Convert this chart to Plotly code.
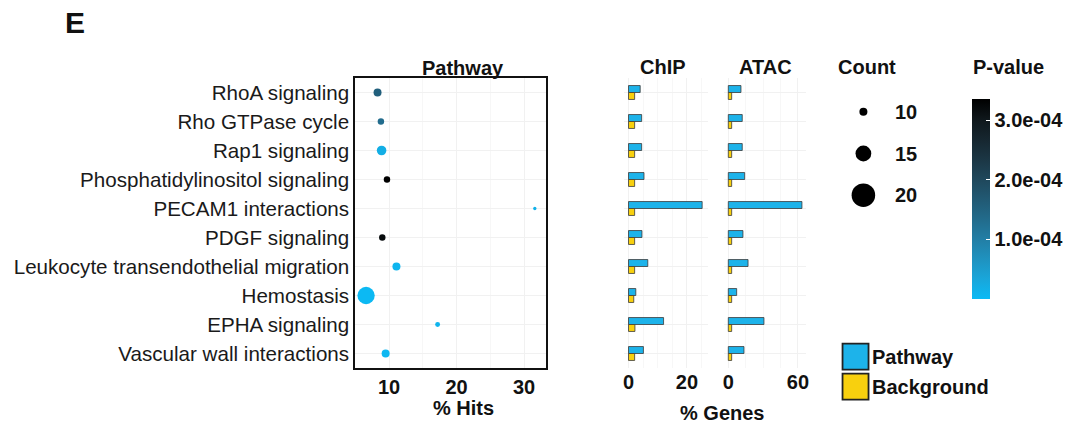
import plotly.graph_objects as go

# ---------------- data ----------------
pathways = ["RhoA signaling", "Rho GTPase cycle", "Rap1 signaling",
            "Phosphatidylinositol signaling", "PECAM1 interactions",
            "PDGF signaling", "Leukocyte transendothelial migration",
            "Hemostasis", "EPHA signaling", "Vascular wall interactions"]
hits_pct = [8.3, 8.8, 8.9, 9.7, 31.6, 9.0, 11.1, 6.6, 17.2, 9.5]
counts = [10, 9, 11, 9, 7, 9, 10, 16, 8, 10]
pvalues = [1.56e-4, 1.32e-4, 2.0e-5, 3.36e-4, 1.5e-5, 3.2e-4, 8e-6, 2e-6, 1e-5, 5e-6]
chip_pathway = [4.0, 4.5, 4.5, 5.3, 25.2, 4.6, 6.6, 2.5, 12.0, 5.1]
chip_background = [2.1, 2.1, 2.1, 2.1, 2.1, 2.1, 2.1, 1.8, 2.2, 2.1]
atac_pathway = [10.9, 12.0, 12.0, 14.1, 63.4, 12.6, 17.0, 7.2, 30.7, 13.5]
atac_background = [2.9, 2.9, 2.9, 2.9, 2.9, 2.9, 2.9, 2.9, 2.9, 2.9]
count_breaks = [10, 15, 20]
pval_ticks = [1e-4, 2e-4, 3e-4]
pval_ticktext = ["1.0e-04", "2.0e-04", "3.0e-04"]
hits_ticks = [10, 20, 30]
chip_ticks = [0, 20]
atac_ticks = [0, 60]
fill_legend = ["Pathway", "Background"]

# ---------------- styling helpers ----------------
W, H = 1071, 424
FONT = "Liberation Sans, Arial, sans-serif"
C_PATH = "#1DB3EA"
C_BG = "#F8D00E"
GRID = "#F1F1F1"


def px_x(p):
    return p / W


def px_y(p):
    return 1 - p / H


def size_of(c):
    return 1.55 * c - 7.5


def _lin(c):
    c = c / 255
    return c / 12.92 if c <= 0.04045 else ((c + 0.055) / 1.055) ** 2.4


def _gam(c):
    c = 12.92 * c if c <= 0.0031308 else 1.055 * c ** (1 / 2.4) - 0.055
    return max(0, min(255, round(c * 255)))


WHITE = (0.95047, 1.0, 1.08883)


def to_lab(h):
    r, g, b = [_lin(int(h[i:i + 2], 16)) for i in (1, 3, 5)]
    X = 0.4124 * r + 0.3576 * g + 0.1805 * b
    Y = 0.2126 * r + 0.7152 * g + 0.0722 * b
    Z = 0.0193 * r + 0.1192 * g + 0.9505 * b
    f = lambda t: t ** (1 / 3) if t > 0.008856 else 7.787 * t + 16 / 116
    fx, fy, fz = f(X / WHITE[0]), f(Y / WHITE[1]), f(Z / WHITE[2])
    return 116 * fy - 16, 500 * (fx - fy), 200 * (fy - fz)


def from_lab(L, a, b):
    fy = (L + 16) / 116
    fx = fy + a / 500
    fz = fy - b / 200
    inv = lambda t: t ** 3 if t ** 3 > 0.008856 else (t - 16 / 116) / 7.787
    X, Y, Z = inv(fx) * WHITE[0], inv(fy) * WHITE[1], inv(fz) * WHITE[2]
    r = 3.2406 * X - 1.5372 * Y - 0.4986 * Z
    g = -0.9689 * X + 1.8758 * Y + 0.0415 * Z
    bb = 0.0557 * X - 0.2040 * Y + 1.0570 * Z
    return "rgb(%d,%d,%d)" % (_gam(r), _gam(g), _gam(bb))


lo, hi = to_lab("#0BBAF5"), to_lab("#000000")
colorscale = []
for i in range(11):
    t = i / 10
    colorscale.append([t, from_lab(*[lo[k] + (hi[k] - lo[k]) * t for k in range(3)])])

fig = go.Figure()

# ---------------- dot plot ----------------
fig.add_trace(go.Scatter(
    x=hits_pct, y=pathways, mode="markers", xaxis="x", yaxis="y",
    marker=dict(size=[size_of(c) for c in counts], color=pvalues,
                colorscale=colorscale, cmin=0, cmax=max(pvalues),
                line=dict(width=0), opacity=1,
                colorbar=dict(x=px_x(972), xanchor="left", y=px_y(199), yanchor="middle",
                              lenmode="pixels", len=220, ypad=10, thickness=18, outlinewidth=0,
                              xpad=0,
                              tickvals=pval_ticks, ticktext=pval_ticktext,
                              ticks="inside", ticklen=4, tickcolor="white", tickwidth=1,
                              tickfont=dict(family=FONT, size=20, color="#111", weight="bold"))),
    showlegend=False, hoverinfo="skip"))

# ---------------- bars ----------------
for xa, ya, pv, bv in (("x2", "y2", chip_pathway, chip_background),
                       ("x3", "y3", atac_pathway, atac_background)):
    fig.add_trace(go.Bar(x=pv, y=pathways, orientation="h", xaxis=xa, yaxis=ya,
                         marker=dict(color=C_PATH, line=dict(color="#3a3a3a", width=0.8)),
                         offsetgroup="p", showlegend=False))
    fig.add_trace(go.Bar(x=bv, y=pathways, orientation="h", xaxis=xa, yaxis=ya,
                         marker=dict(color=C_BG, line=dict(color="#3a3a3a", width=0.8)),
                         offsetgroup="b", showlegend=False))

# ---------------- size legend ----------------
fig.add_trace(go.Scatter(x=[0.26] * len(count_breaks), y=count_breaks, mode="markers",
                         xaxis="x4", yaxis="y4",
                         marker=dict(size=[size_of(c) for c in count_breaks], color="#000000",
                                     opacity=1, line=dict(width=0)),
                         showlegend=False, hoverinfo="skip"))

# ---------------- fill legend ----------------
fig.add_trace(go.Scatter(x=[0.087] * 2, y=fill_legend, mode="markers", xaxis="x5", yaxis="y5",
                         marker=dict(symbol="square", size=26, color=[C_PATH, C_BG],
                                     line=dict(color="#222", width=1.8)),
                         showlegend=False, hoverinfo="skip"))

tickfont_b = dict(family=FONT, size=20, color="#111", weight="bold")
ydom = [px_y(368), px_y(78)]
cat_y = dict(type="category", categoryorder="array", categoryarray=pathways,
             range=[9.5, -0.5], domain=ydom, showgrid=True, gridcolor=GRID, zeroline=False)

fig.update_layout(
    width=W, height=H, margin=dict(l=0, r=0, t=0, b=0, autoexpand=False),
    paper_bgcolor="white", plot_bgcolor="white",
    barmode="group", bargap=0.52, bargroupgap=0,
    xaxis=dict(domain=[px_x(355), px_x(546)], range=[4.96, 33.26], tickvals=hits_ticks,
               showgrid=True, gridcolor=GRID, minor=dict(showgrid=True, gridcolor="#F7F7F7", dtick=5),
               zeroline=False, showline=True, mirror=True, linecolor="#111", linewidth=1.5,
               ticks="", tickfont=tickfont_b, anchor="y"),
    yaxis=dict(**cat_y, showline=True, mirror=True, linecolor="#111", linewidth=1.5,
               ticks="", tickfont=dict(family=FONT, size=20.6, color="#1a1a1a"), anchor="x"),
    xaxis2=dict(domain=[px_x(624), px_x(708)], range=[-1.54, 27.2], tickvals=chip_ticks,
                showgrid=True, gridcolor=GRID, minor=dict(showgrid=True, gridcolor="#F7F7F7", dtick=5),
                zeroline=False, ticks="", tickfont=tickfont_b, anchor="y2"),
    yaxis2=dict(**cat_y, showticklabels=False, ticks="", anchor="x2"),
    xaxis3=dict(domain=[px_x(724), px_x(806)], range=[-3.7, 66.9], tickvals=atac_ticks,
                showgrid=True, gridcolor=GRID, minor=dict(showgrid=True, gridcolor="#F7F7F7", dtick=15),
                zeroline=False, ticks="", tickfont=tickfont_b, anchor="y3"),
    yaxis3=dict(**cat_y, showticklabels=False, ticks="", anchor="x3"),
    xaxis4=dict(domain=[px_x(840), px_x(930)], range=[0, 1], visible=False, anchor="y4"),
    yaxis4=dict(domain=[px_y(216), px_y(91)], range=[22.5, 7.5], visible=False, anchor="x4"),
    xaxis5=dict(domain=[px_x(835), px_x(1071)], range=[0, 1], visible=False, anchor="y5"),
    yaxis5=dict(domain=[px_y(401.7), px_y(341.7)], type="category", categoryorder="array",
                categoryarray=fill_legend, range=[1.5, -0.5], visible=False, anchor="x5"),
)

ann = []


def txt(x, y, s, size=20, bold=True, xanchor="center", xref="paper", yref="paper"):
    ann.append(dict(x=x, y=y, xref=xref, yref=yref, text=s, showarrow=False,
                    xanchor=xanchor, yanchor="middle",
                    font=dict(family=FONT, size=size, color="#111", weight="bold" if bold else "normal")))


txt(px_x(75), px_y(22), "E", size=30)
txt(px_x(463), px_y(68), "Pathway")
txt(px_x(663), px_y(67), "ChIP")
txt(px_x(765), px_y(67), "ATAC")
txt(px_x(867), px_y(67), "Count")
txt(px_x(1008), px_y(67), "P-value")
txt(px_x(463), px_y(408), "% Hits")
txt(px_x(722), px_y(413), "% Genes")
for c in count_breaks:
    txt(px_x(893), c, str(c), xanchor="left", yref="y4")
for lab in fill_legend:
    txt(px_x(870), lab, lab, xanchor="left", yref="y5")

fig.update_layout(annotations=ann)
fig.write_html("out.html")
